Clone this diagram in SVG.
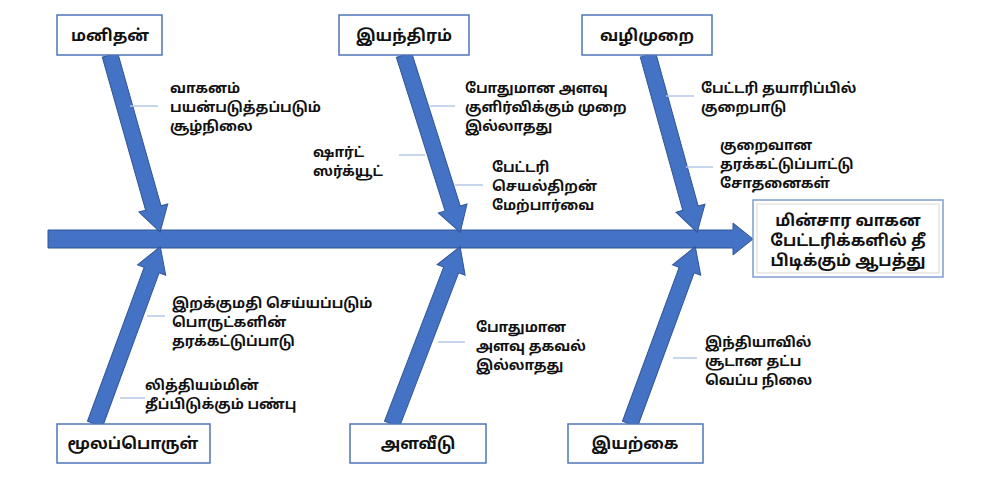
<svg xmlns="http://www.w3.org/2000/svg" width="1000" height="492" viewBox="0 0 1000 492">
<style>
.box{fill:#fff;stroke:#4f76b8;stroke-width:1.5}
.bt{font-family:"Noto Sans","Noto Sans Tamil","Lohit Tamil",sans-serif;font-size:16px;font-weight:bold;fill:#111;text-anchor:middle}
.lt{font-family:"Noto Sans","Noto Sans Tamil","Lohit Tamil",sans-serif;font-size:14px;font-weight:bold;fill:#111}
.arr{fill:#4472c4;stroke:#2f5597;stroke-width:1}
.tick{stroke:#b4c7e7;stroke-width:1.5}
</style>
<rect width="1000" height="492" fill="#fff"/>
<g id="connectors">
<path class="arr" d="M48,230 H733 V223 L753,239 L733,255 V248 H48 Z"/>
<path class="arr" transform="translate(110,55) rotate(74.2)" d="M0,-8 H159 V-15 L184,0 L159,15 V8 H0 Z"/>
<path class="arr" transform="translate(404,55) rotate(72.4)" d="M0,-8 H161 V-15 L186,0 L161,15 V8 H0 Z"/>
<path class="arr" transform="translate(648,55) rotate(74.5)" d="M0,-8 H159 V-15 L184,0 L159,15 V8 H0 Z"/>
<path class="arr" transform="translate(95,424) rotate(-69.8)" d="M0,-8 H164 V-15 L189,0 L164,15 V8 H0 Z"/>
<path class="arr" transform="translate(392,424) rotate(-69)" d="M0,-8 H165 V-15 L190,0 L165,15 V8 H0 Z"/>
<path class="arr" transform="translate(630,424) rotate(-69.8)" d="M0,-8 H164 V-15 L189,0 L164,15 V8 H0 Z"/>
<line class="tick" x1="130" y1="106" x2="158" y2="106"/>
<line class="tick" x1="430" y1="106" x2="455" y2="106"/>
<line class="tick" x1="666" y1="96" x2="694" y2="96"/>
<line class="tick" x1="399" y1="155" x2="425" y2="155"/>
<line class="tick" x1="455" y1="185" x2="483" y2="185"/>
<line class="tick" x1="686" y1="167" x2="713" y2="167"/>
<line class="tick" x1="147" y1="316" x2="165" y2="316"/>
<line class="tick" x1="120" y1="398" x2="145" y2="398"/>
<line class="tick" x1="438" y1="342" x2="465" y2="342"/>
<line class="tick" x1="673" y1="358" x2="697" y2="358"/>
</g>
<g id="n1"><rect class="box" x="57" y="15" width="105" height="40"/><text class="bt" x="110" y="41">மனிதன்</text></g>
<g id="n2"><rect class="box" x="339" y="15" width="130" height="40"/><text class="bt" x="404" y="41">இயந்திரம்</text></g>
<g id="n3"><rect class="box" x="582" y="15" width="130" height="40"/><text class="bt" x="647" y="41">வழிமுறை</text></g>
<g id="n4"><rect class="box" x="57" y="424" width="153" height="39"/><text class="bt" x="133" y="449">மூலப்பொருள்</text></g>
<g id="n5"><rect class="box" x="350" y="424" width="136" height="39"/><text class="bt" x="418" y="449">அளவீடு</text></g>
<g id="n6"><rect class="box" x="568" y="424" width="135" height="39"/><text class="bt" x="635" y="449">இயற்கை</text></g>
<g id="head"><rect x="753" y="200" width="190" height="77" fill="#fff" stroke="#7f9fd4" stroke-width="1.5"/><rect x="757" y="204" width="182" height="69" fill="#fff" stroke="#d9d9d9" stroke-width="1"/>
<text class="bt" x="848" y="226">மின்சார வாகன</text><text class="bt" x="848" y="246">பேட்டரிக்களில் தீ</text><text class="bt" x="848" y="266">பிடிக்கும் ஆபத்து</text></g>
<g id="labels">
<text class="lt" x="170" y="93">வாகனம்<tspan x="170" dy="19">பயன்படுத்தப்படும்</tspan><tspan x="170" dy="19">சூழ்நிலை</tspan></text>
<text class="lt" x="465" y="93">போதுமான அளவு<tspan x="465" dy="19">குளிர்விக்கும் முறை</tspan><tspan x="465" dy="19">இல்லாதது</tspan></text>
<text class="lt" x="313" y="157">ஷார்ட்<tspan x="313" dy="19">ஸர்க்யூட்</tspan></text>
<text class="lt" x="492" y="172">பேட்டரி<tspan x="492" dy="19">செயல்திறன்</tspan><tspan x="492" dy="19">மேற்பார்வை</tspan></text>
<text class="lt" x="701" y="93">பேட்டரி தயாரிப்பில்<tspan x="701" dy="19">குறைபாடு</tspan></text>
<text class="lt" x="720" y="150">குறைவான<tspan x="720" dy="19">தரக்கட்டுப்பாட்டு</tspan><tspan x="720" dy="19">சோதனைகள்</tspan></text>
<text class="lt" x="172" y="308">இறக்குமதி செய்யப்படும்<tspan x="172" dy="19">பொருட்களின்</tspan><tspan x="172" dy="19">தரக்கட்டுப்பாடு</tspan></text>
<text class="lt" x="145" y="390">லித்தியம்மின்<tspan x="145" dy="19">தீப்பிடுக்கும் பண்பு</tspan></text>
<text class="lt" x="476" y="332">போதுமான<tspan x="476" dy="19">அளவு தகவல்</tspan><tspan x="476" dy="19">இல்லாதது</tspan></text>
<text class="lt" x="705" y="347">இந்தியாவில்<tspan x="705" dy="19">சூடான தட்ப</tspan><tspan x="705" dy="19">வெப்ப நிலை</tspan></text>
</g>
</svg>
